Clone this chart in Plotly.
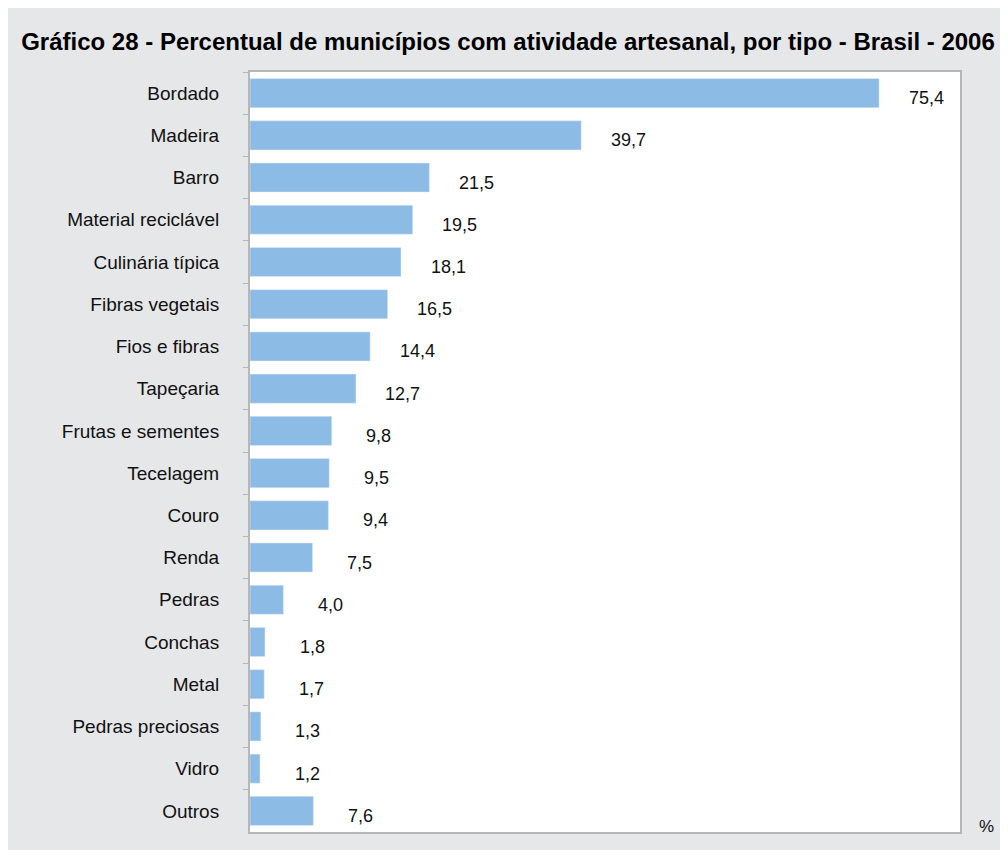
import plotly.graph_objects as go

# Percentual de municípios com atividade artesanal, por tipo - Brasil - 2006
tipos = [
    "Bordado", "Madeira", "Barro", "Material reciclável", "Culinária típica",
    "Fibras vegetais", "Fios e fibras", "Tapeçaria", "Frutas e sementes",
    "Tecelagem", "Couro", "Renda", "Pedras", "Conchas", "Metal",
    "Pedras preciosas", "Vidro", "Outros",
]
percentual = [75.4, 39.7, 21.5, 19.5, 18.1, 16.5, 14.4, 12.7, 9.8,
              9.5, 9.4, 7.5, 4.0, 1.8, 1.7, 1.3, 1.2, 7.6]

BG = "#e6e7e9"
BAR = "#8cbbe6"
FONT = "Liberation Sans, Arial, sans-serif"

fig = go.Figure(go.Bar(
    x=percentual, y=tipos, orientation="h",
    marker_color=BAR, width=0.69,
    hoverinfo="x+y",
))

# value labels, decimal comma, sitting a little right of each bar
for tipo, val in zip(tipos, percentual):
    fig.add_annotation(
        x=val, y=tipo, text=f"{val:.1f}".replace(".", ","),
        showarrow=False, xanchor="center", xshift=47, yshift=-5,
        font=dict(size=18, color="#111111", family=FONT),
    )

fig.add_annotation(
    x=1.038, y=0.0, xref="paper", yref="paper", text="%",
    showarrow=False, xanchor="center", yanchor="middle", yshift=6,
    font=dict(size=17, color="#111111", family=FONT),
)

fig.update_layout(
    width=1000, height=842,
    margin=dict(l=242, r=48, t=64, b=18),
    paper_bgcolor=BG, plot_bgcolor="white",
    font=dict(family=FONT, size=19, color="#111111"),
    title=dict(
        text="<b>Gráfico 28 - Percentual de municípios com atividade artesanal, por tipo - Brasil - 2006</b>",
        x=0.5, xanchor="center", y=0.9596, yanchor="middle",
        font=dict(size=24, color="#000000", family=FONT),
    ),
    showlegend=False, bargap=0.31,
)
fig.update_xaxes(
    range=[0, 85.1], showgrid=False, zeroline=False, showticklabels=False,
    showline=True, linecolor="#b7b7b7", linewidth=2, mirror=True, ticks="",
)
fig.update_yaxes(
    autorange="reversed", showgrid=False, zeroline=False,
    showline=True, linecolor="#b7b7b7", linewidth=2, mirror=True,
    ticks="outside", tickson="boundaries", ticklen=5, tickcolor="#b7b7b7",
    ticklabelstandoff=25, tickfont=dict(size=19, family=FONT, color="#111111"),
)

fig.write_html("out.html")
